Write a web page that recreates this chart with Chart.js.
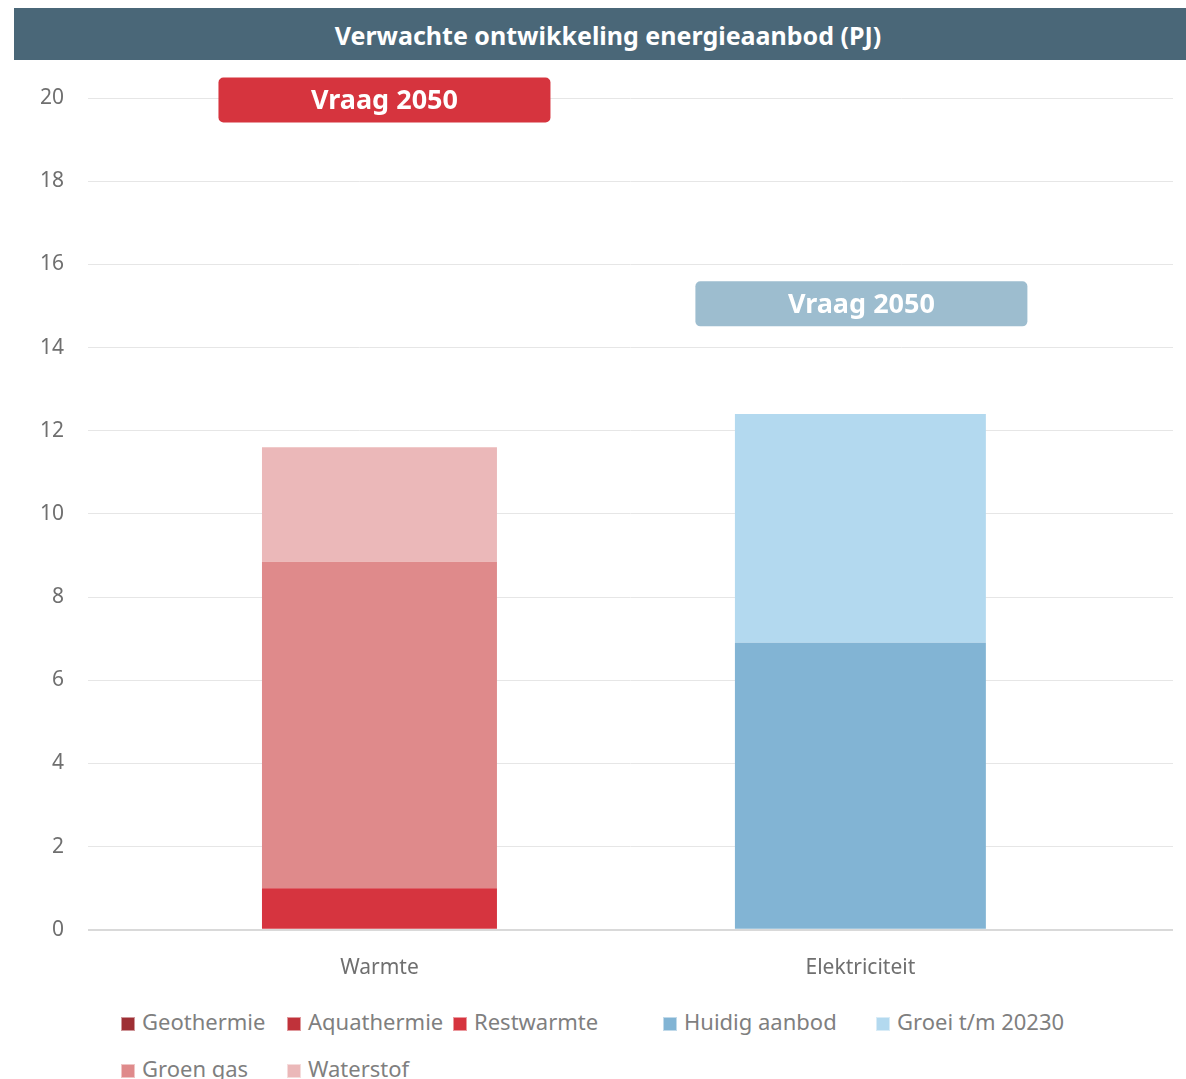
<!DOCTYPE html>
<html>
<head>
<meta charset="utf-8">
<script src="https://cdn.jsdelivr.net/npm/chart.js@4.4.1/dist/chart.umd.min.js"></script>
<style>
  html, body { margin: 0; padding: 0; background: #fff; }
  body { width: 1186px; height: 1079px; position: relative; overflow: hidden; font-family: "Noto Sans", "Open Sans", sans-serif; }
  #titlebar { position: absolute; left: 14px; top: 8px; width: 1172px; height: 52px; background: #4a6778;
    color: #fff; font-weight: bold; font-size: 25px; line-height: 54px; text-align: center; box-sizing: border-box; padding-left: 16px; }
  #wrap { position: absolute; left: 0; top: 0; width: 1186px; height: 1000px; }
  .lg { position: absolute; font-size: 22px; color: #7f7f7f; white-space: nowrap; line-height: 26px; }
  .lg span.sw { display: inline-block; width: 14px; height: 14px; margin-right: 7px; vertical-align: -1px; box-sizing: border-box; border: 1px solid rgba(255,255,255,0.5); }
</style>
</head>
<body>
<div id="wrap"><canvas id="c" width="1186" height="1000"></canvas></div>
<div id="titlebar">Verwachte ontwikkeling energieaanbod (PJ)</div>
<div id="legend"></div>
<script>
// ---- data ----
const categories = ['Warmte', 'Elektriciteit'];
const geothermie   = [0, 0];
const aquathermie  = [0, 0];
const restwarmte   = [1.0, 0];
const groenGas     = [7.85, 0];
const waterstof    = [2.75, 0];
const huidigAanbod = [0, 6.9];
const groei        = [0, 5.5];
const vraag2050    = [19.95, 15.05];
const vraagLabel   = 'Vraag 2050';
const yTicks = [0, 2, 4, 6, 8, 10, 12, 14, 16, 18, 20];

const seriesNames  = ['Geothermie', 'Aquathermie', 'Restwarmte', 'Groen gas', 'Waterstof', 'Huidig aanbod', 'Groei t/m 20230'];
const seriesValues = [geothermie, aquathermie, restwarmte, groenGas, waterstof, huidigAanbod, groei];
const seriesColors = ['#9e2f34', '#c0323a', '#d6343f', '#df8a8b', '#ebb8b9', '#82b4d4', '#b3d9ef'];
const seriesBarPct = [0.4886, 0.4886, 0.4886, 0.4886, 0.4886, 0.5218, 0.5218];
const vraagColors  = ['#d6343e', '#9dbdcf'];
const vraagShift   = [5, 1];

const datasets = seriesNames.map((name, i) => ({
  label: name,
  data: seriesValues[i].map((v, j) => ({ x: j, y: v })),
  backgroundColor: seriesColors[i],
  borderWidth: 0,
  barPercentage: seriesBarPct[i],
  categoryPercentage: 1.0,
  stack: 's'
}));

const vraagPlugin = {
  id: 'vraag',
  afterDatasetsDraw(chart) {
    const { ctx, scales: { x, y } } = chart;
    const w = 332, h = 45;
    vraag2050.forEach((v, i) => {
      const cx = x.getPixelForValue(i) + vraagShift[i];
      const cy = y.getPixelForValue(v);
      ctx.save();
      ctx.fillStyle = vraagColors[i];
      ctx.beginPath();
      ctx.roundRect(cx - w / 2, cy - h / 2, w, h, 5);
      ctx.fill();
      ctx.fillStyle = '#fff';
      ctx.font = 'bold 27px "Noto Sans", sans-serif';
      ctx.textAlign = 'center';
      ctx.textBaseline = 'middle';
      ctx.fillText(vraagLabel, cx, cy + 1);
      ctx.restore();
    });
  }
};

const chart = new Chart(document.getElementById('c'), {
  type: 'bar',
  data: { datasets },
  options: {
    responsive: false,
    animation: false,
    layout: { padding: { left: 16, right: 13, top: 98, bottom: 1 } },
    plugins: { legend: { display: false }, tooltip: { enabled: false }, title: { display: false } },
    scales: {
      x: {
        type: 'linear',
        stacked: true,
        offset: false,
        bounds: 'ticks',
        min: -0.606,
        max: 1.650,
        grid: { display: false },
        border: { display: false },
        afterBuildTicks: (s) => { s.ticks = categories.map((_, i) => ({ value: i })); },
        ticks: {
          callback: (v) => categories[v] ?? '',
          color: '#6f6f6f',
          font: { family: '"Noto Sans", sans-serif', size: 21 },
          padding: 18,
          maxRotation: 0,
          autoSkip: false
        }
      },
      y: {
        stacked: true,
        min: 0,
        max: 20,
        afterBuildTicks: (s) => { s.ticks = yTicks.map(v => ({ value: v })); },
        grid: { color: (c) => c.tick && c.tick.value === 0 ? '#d9d9d9' : '#e6e6e6', lineWidth: (c) => c.tick && c.tick.value === 0 ? 2 : 1, drawTicks: false },
        border: { display: false },
        ticks: {
          color: '#6f6f6f',
          font: { family: '"Noto Sans", sans-serif', size: 21 },
          padding: 24
        }
      }
    }
  },
  plugins: [vraagPlugin]
});

// ---- HTML legend ----
const legendPos = [
  [121, 1008], [287, 1008], [453, 1008], [663, 1008], [876, 1008],
  [121, 1055], [287, 1055]
];
const legendOrder = [0, 1, 2, 5, 6, 3, 4];
const lg = document.getElementById('legend');
legendOrder.forEach((si, k) => {
  const d = document.createElement('div');
  d.className = 'lg';
  d.style.left = legendPos[k][0] + 'px';
  d.style.top = legendPos[k][1] + 'px';
  d.innerHTML = '<span class="sw" style="background:' + seriesColors[si] + '"></span>' + seriesNames[si];
  lg.appendChild(d);
});
</script>
</body>
</html>
